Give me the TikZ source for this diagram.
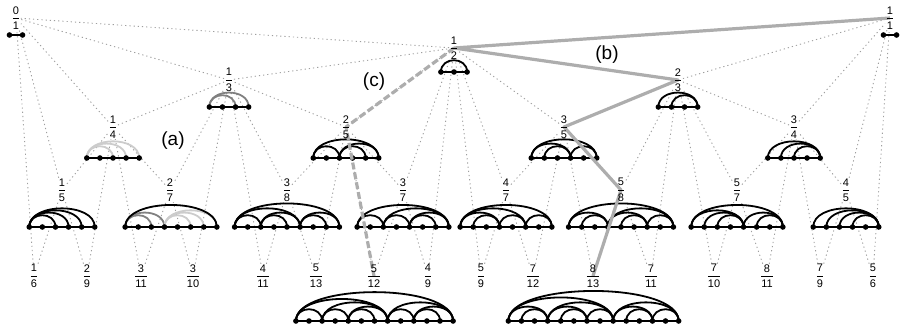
\documentclass[tikz,border=0pt]{standalone}
\usepackage{amsmath}
\usepackage{fontspec}
\setmainfont{Liberation Sans}
\usetikzlibrary{positioning}
\definecolor{pathgray}{gray}{0.68}
\definecolor{treegray}{gray}{0.62}
\definecolor{midgray}{gray}{0.5}
\definecolor{palegray}{gray}{0.8}
\tikzstyle{frac} = [inner sep=0.5pt, font=\fontsize{11}{13}\selectfont]
\tikzstyle{tag} = [inner sep=0pt, font=\fontsize{19}{22}\selectfont]
\tikzstyle{treeline} = [treegray, line width=0.9pt, dash pattern=on 1.2pt off 3pt]
\tikzstyle{baseseg} = [line width=1.9pt]
\tikzstyle{arcline} = [line width=1.8pt]
\tikzstyle{route} = [pathgray, line width=3.2pt, line join=round]
\tikzstyle{route2} = [route, dash pattern=on 7pt off 3pt]

\pgfdeclarelayer{background}
\pgfdeclarelayer{middle}
\pgfsetlayers{background,middle,main}

% fraction label with a sans serif bar
\newcommand{\sbfrac}[2]{$\genfrac{}{}{0.9pt}{0}{\mbox{#1}}{\mbox{#2}}$}
% dots of an arc diagram: name, centre x, y, number of gaps
\newcommand{\arcdiag}[4]{%
  \foreach \k in {0,...,#4}
    \coordinate (#1-\k) at ({#2+(\k-#4/2)*13.1},#3);
  \draw[baseseg] (#1-0) -- (#1-#4);
}
% arcs of a diagram, i/j = first/last dot
\newcommand{\addarcs}[3][black]{%
  \foreach \i/\j in {#3}{
    \pgfmathsetmacro\hh{-3.07*sqrt(13.1*(\j-\i))}
    \draw[arcline,#1] (#2-\i) .. controls +(0,\hh) and +(0,\hh) .. (#2-\j);
  }
}

\begin{document}
\begin{tikzpicture}[x=1pt,y=-1pt]
\useasboundingbox (0,0) rectangle (902,332);

% Place nodes
\node (f01) [frac] at (16,18) {\sbfrac{0}{1}};
\node (f11) [frac] at (890,18) {\sbfrac{1}{1}};
\node (f12) [frac] at (454,48) {\sbfrac{1}{2}};
\node (f13) [frac] at (229,80) {\sbfrac{1}{3}};
\node (f23) [frac] at (678,80) {\sbfrac{2}{3}};
\node (f14) [frac] at (113,127) {\sbfrac{1}{4}};
\node (f25) [frac] at (346,127) {\sbfrac{2}{5}};
\node (f35) [frac] at (564,127) {\sbfrac{3}{5}};
\node (f34) [frac] at (794,127) {\sbfrac{3}{4}};
\node (f15) [frac] at (62,190) {\sbfrac{1}{5}};
\node (f27) [frac] at (170,190) {\sbfrac{2}{7}};
\node (f38) [frac] at (287,190) {\sbfrac{3}{8}};
\node (f37) [frac] at (403,190) {\sbfrac{3}{7}};
\node (f47) [frac] at (506,190) {\sbfrac{4}{7}};
\node (f58) [frac] at (621,190) {\sbfrac{5}{8}};
\node (f57) [frac] at (737,190) {\sbfrac{5}{7}};
\node (f45) [frac] at (846,190) {\sbfrac{4}{5}};
\node (f16) [frac] at (34,276) {\sbfrac{1}{6}};
\node (f29) [frac] at (87,276) {\sbfrac{2}{9}};
\node (f311) [frac] at (141,276) {\sbfrac{3}{11}};
\node (f310) [frac] at (193,276) {\sbfrac{3}{10}};
\node (f411) [frac] at (263,276) {\sbfrac{4}{11}};
\node (f513) [frac] at (316,276) {\sbfrac{5}{13}};
\node (f512) [frac] at (374,276) {\sbfrac{5}{12}};
\node (f49) [frac] at (428,276) {\sbfrac{4}{9}};
\node (f59) [frac] at (481,276) {\sbfrac{5}{9}};
\node (f712) [frac] at (533,276) {\sbfrac{7}{12}};
\node (f813) [frac] at (593,276) {\sbfrac{8}{13}};
\node (f711) [frac] at (651,276) {\sbfrac{7}{11}};
\node (f710) [frac] at (714,276) {\sbfrac{7}{10}};
\node (f811) [frac] at (767,276) {\sbfrac{8}{11}};
\node (f79) [frac] at (820,276) {\sbfrac{7}{9}};
\node (f56) [frac] at (873,276) {\sbfrac{5}{6}};

\node (taga) [tag] at (173,141) {(a)};
\node (tagb) [tag] at (607,55) {(b)};
\node (tagc) [tag] at (374,82) {(c)};

\begin{pgfonlayer}{background}
% Draw edges: each fraction to its two parents
\foreach \c/\p in {f12/f01, f12/f11, f13/f01, f13/f12, f23/f12, f23/f11,
    f14/f01, f14/f13, f25/f13, f25/f12, f35/f12, f35/f23, f34/f23, f34/f11,
    f15/f01, f15/f14, f27/f14, f27/f13, f38/f13, f38/f25, f37/f25, f37/f12,
    f47/f12, f47/f35, f58/f35, f58/f23, f57/f23, f57/f34, f45/f34, f45/f11,
    f16/f01, f16/f15, f29/f15, f29/f14, f311/f14, f311/f27, f310/f27, f310/f13,
    f411/f13, f411/f38, f513/f38, f513/f25, f512/f25, f512/f37, f49/f37, f49/f12,
    f59/f12, f59/f47, f712/f47, f712/f35, f813/f35, f813/f58, f711/f58, f711/f23,
    f710/f23, f710/f57, f811/f57, f811/f34, f79/f34, f79/f45, f56/f45, f56/f11}
  \draw[treeline] (\c) -- (\p);

% Arc diagrams
\arcdiag{d01}{16}{35}{1}
\arcdiag{d11}{890}{35}{1}
\arcdiag{d12}{454}{72}{2}
\arcdiag{d13}{229}{107}{3}
\arcdiag{d23}{678}{107}{3}
\arcdiag{d14}{113}{158}{4}
\arcdiag{d25}{346}{158}{5}
\arcdiag{d35}{564}{158}{5}
\arcdiag{d34}{794}{158}{4}
\arcdiag{d15}{62}{227}{5}
\arcdiag{d27}{171}{227}{7}
\arcdiag{d38}{287}{227}{8}
\arcdiag{d37}{403}{227}{7}
\arcdiag{d47}{506}{227}{7}
\arcdiag{d58}{621}{227}{8}
\arcdiag{d57}{737}{227}{7}
\arcdiag{d45}{846}{227}{5}
\arcdiag{d512}{374.5}{321}{12}
\arcdiag{d813}{593.5}{321}{13}

\addarcs{d12}{0/2}
\addarcs[midgray]{d13}{0/2,0/3}
\addarcs{d23}{1/3,0/3}
\addarcs[palegray]{d14}{0/2,0/3,0/4}
\addarcs{d25}{0/2,2/4,2/5,0/5}
\addarcs{d35}{1/3,0/3,3/5,0/5}
\addarcs{d34}{2/4,1/4,0/4}
\addarcs{d15}{0/2,0/3,0/4,0/5}
\addarcs[midgray]{d27}{0/2,0/3}
\addarcs[palegray]{d27}{3/5,3/6,3/7}
\addarcs{d27}{0/7}
\addarcs{d38}{0/2,2/4,2/5,0/5,5/7,5/8,0/8}
\addarcs{d37}{0/2,2/4,4/6,4/7,2/7,0/7}
\addarcs{d47}{1/3,0/3,3/5,0/5,5/7,0/7}
\addarcs{d58}{1/3,0/3,4/6,3/6,6/8,3/8,0/8}
\addarcs{d57}{2/4,1/4,0/4,5/7,4/7,0/7}
\addarcs{d45}{3/5,2/5,1/5,0/5}
\addarcs{d512}{0/2,2/4,4/6,4/7,2/7,0/7,7/9,9/11,9/12,7/12,0/12}
\addarcs{d813}{1/3,0/3,4/6,3/6,6/8,3/8,0/8,9/11,8/11,11/13,8/13,0/13}

\foreach \d/\n in {d01/1, d11/1, d12/2, d13/3, d23/3, d14/4, d25/5, d35/5,
    d34/4, d15/5, d27/7, d38/8, d37/7, d47/7, d58/8, d57/7, d45/5,
    d512/12, d813/13}
  \foreach \k in {0,...,\n}
    \fill (\d-\k) circle (2.8);
\end{pgfonlayer}

\begin{pgfonlayer}{middle}
% highlighted paths
\draw[route] (f11.center) -- (f12.center) -- (f23.center) -- (f35.center)
  -- (f58.center) -- (f813.center);
\draw[route2] (f12.center) -- (f25.center) -- (f512.center);
\end{pgfonlayer}
\end{tikzpicture}
\end{document}
